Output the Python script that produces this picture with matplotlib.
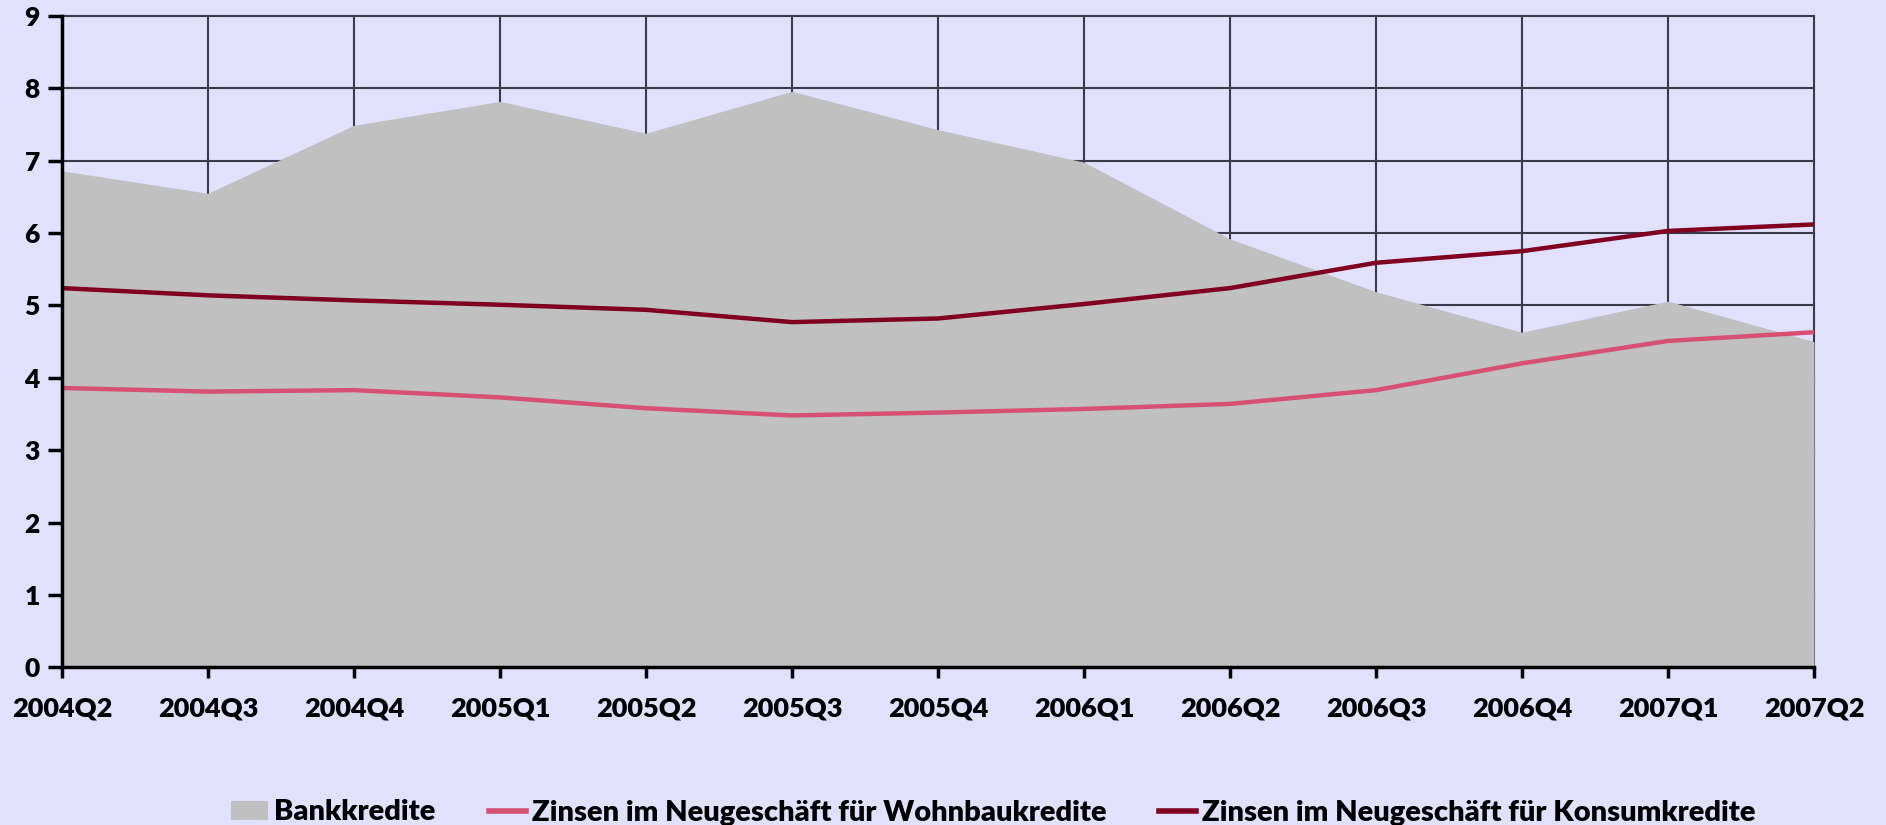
import matplotlib
matplotlib.use("Agg")
import matplotlib.pyplot as plt
from matplotlib.patches import Patch
from matplotlib.lines import Line2D

quarters = ["2004Q2", "2004Q3", "2004Q4", "2005Q1", "2005Q2", "2005Q3", "2005Q4",
            "2006Q1", "2006Q2", "2006Q3", "2006Q4", "2007Q1", "2007Q2"]
bankkredite = [6.86, 6.55, 7.49, 7.82, 7.38, 7.96, 7.43, 6.98, 5.92, 5.19, 4.63, 5.06, 4.50]
wohnbau = [3.86, 3.81, 3.83, 3.73, 3.58, 3.48, 3.52, 3.57, 3.64, 3.83, 4.20, 4.51, 4.63]
konsum = [5.24, 5.14, 5.07, 5.01, 4.94, 4.77, 4.82, 5.02, 5.24, 5.59, 5.75, 6.03, 6.12]
yticks = list(range(0, 10))

labels = ["Bankkredite", "Zinsen im Neugeschäft für Wohnbaukredite",
          "Zinsen im Neugeschäft für Konsumkredite"]

BG = "#E1E1FE"
GRAY = "#C0C0C0"
PINK = "#D55073"
DARK = "#800020"

plt.rcParams['font.family'] = ['Lato', 'DejaVu Sans']

fig = plt.figure(figsize=(18.86, 8.25), dpi=100, facecolor=BG)
ax = fig.add_axes([62/1886, 1 - 667.3/825, (1814-62)/1886, (667.3-16)/825])
ax.set_facecolor(BG)

x = list(range(len(quarters)))
ax.fill_between(x, 0, bankkredite, color=GRAY, linewidth=0, zorder=1)
ax.plot(x, wohnbau, color=PINK, lw=3.2, zorder=3, solid_capstyle='butt')
ax.plot(x, konsum, color=DARK, lw=3.2, zorder=3, solid_capstyle='butt')

ax.set_xlim(0, len(quarters) - 1)
ax.set_ylim(0, 9)
ax.set_xticks(x)
ax.set_xticklabels(quarters)
ax.set_yticks(yticks)
ax.set_yticklabels([str(v) for v in yticks])

ax.set_axisbelow(True)
ax.grid(True, color="#3a3a4a", lw=1.5, zorder=0.5)
for gl in ax.get_xgridlines() + ax.get_ygridlines():
    gl.set_clip_on(False)

for s in ["top", "right"]:
    ax.spines[s].set_visible(False)
for s in ["left", "bottom"]:
    ax.spines[s].set_linewidth(2.5)
    ax.spines[s].set_color("black")
    ax.spines[s].set_zorder(4)

ax.tick_params(axis='y', direction='out', length=10, width=2.5, pad=6, labelsize=19)
ax.tick_params(axis='x', direction='out', length=8, width=2.5, pad=13, labelsize=19.5)
for t in ax.get_xticklabels() + ax.get_yticklabels():
    t.set_fontweight('heavy')

handles = [Patch(facecolor=GRAY, edgecolor='none'),
           Line2D([0], [0], color=PINK, lw=4),
           Line2D([0], [0], color=DARK, lw=4)]
fig.legend(handles, labels, loc='center', bbox_to_anchor=(993.5/1886, 12.5/825), ncol=3,
           frameon=False, prop={'weight': 'heavy', 'size': 21},
           handlelength=1.27, handleheight=0.65, handletextpad=0.2, columnspacing=1.82,
           borderpad=0, borderaxespad=0)

fig.savefig("out.png", dpi=100, facecolor=BG)
